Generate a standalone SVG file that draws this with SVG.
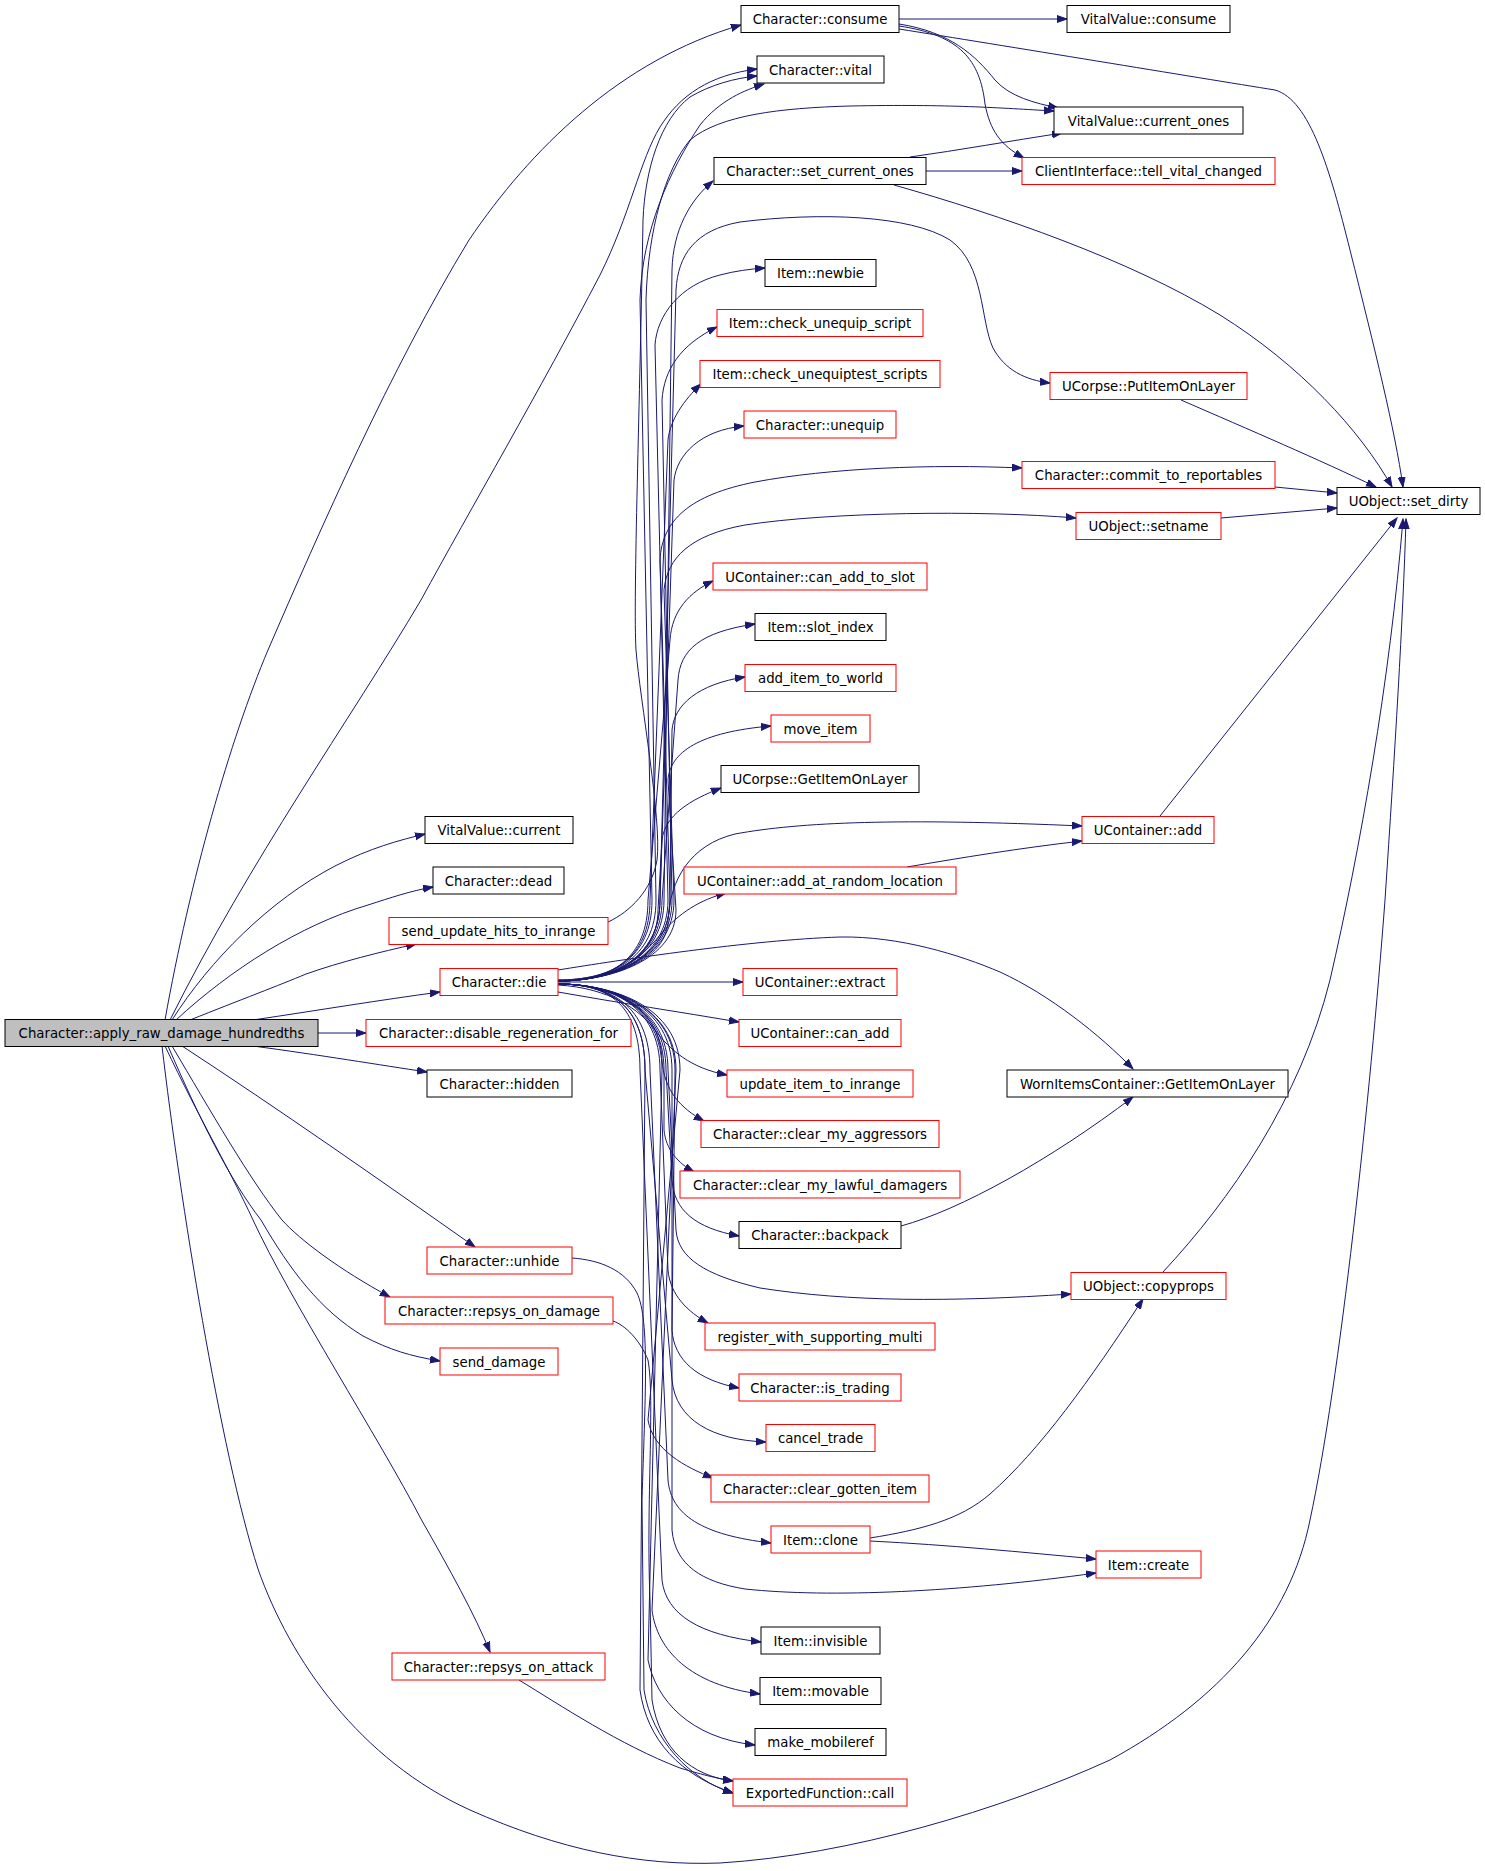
<svg xmlns="http://www.w3.org/2000/svg" width="1485" height="1871" viewBox="0 0 1485 1871">
<defs>
<style>
.n rect{fill:#ffffff;stroke:#000000;stroke-width:1}
.n.r rect{stroke:#ff0000}
.n.root rect{fill:#bfbfbf}
.n text{font-family:'DejaVu Sans',Verdana,sans-serif;font-size:13.3px;text-anchor:middle;fill:#000000}
#edges path{fill:none;stroke:#191970;stroke-width:1;marker-end:url(#arr)}
</style>
<marker id="arr" markerWidth="12" markerHeight="9" refX="10" refY="4" orient="auto" markerUnits="userSpaceOnUse">
<path d="M0,0.5 L10,4 L0,7.5 z" fill="#191970" stroke="#191970" stroke-width="1"/>
</marker>
</defs>
<rect width="1485" height="1871" fill="#ffffff"/>
<g id="edges">
<!-- from apply_raw_damage_hundredths -->
<path d="M165,1020 C190,880 230,740 268,650 C320,530 390,370 469,240 C530,150 620,60 741,25"/>
<path d="M170,1020 C250,860 350,720 421,600 C470,510 540,390 600,275 C630,215 640,160 660,127 C680,95 710,75 757,69"/>
<path d="M172,1020 C210,960 270,900 335,866 C370,848 400,840 425,834"/>
<path d="M176,1020 C230,970 300,925 368,905 C390,898 410,891 433,887"/>
<path d="M190,1020 C240,1000 280,985 306,974 C340,962 380,952 416,944"/>
<path d="M253,1020 C320,1010 380,1000 440,992"/>
<path d="M318,1033 L366,1033"/>
<path d="M253,1046 C320,1055 380,1065 427,1072"/>
<path d="M182,1046 C280,1110 380,1180 475,1247"/>
<path d="M172,1046 C210,1110 250,1180 282,1220 C300,1240 340,1270 390,1297"/>
<path d="M168,1046 C200,1120 230,1180 261,1220 C290,1270 320,1310 363,1336 C390,1350 410,1356 440,1361"/>
<path d="M165,1046 C200,1120 230,1170 253,1220 C290,1300 380,1440 421,1519 C450,1570 475,1615 490,1652"/>
<path d="M162,1046 C180,1200 220,1450 258,1569 C290,1660 360,1760 470,1810 C560,1850 640,1866 720,1863 C850,1855 1000,1810 1110,1760 C1220,1700 1290,1620 1310,1520 C1340,1380 1370,1100 1385,900 C1395,750 1403,620 1406,519"/>
<!-- send_update_hits_to_inrange -->
<path d="M608,922 C630,912 652,890 657,860 C662,820 640,700 636,650 C633,600 640,400 643,220 C645,170 660,120 690,97 C710,85 735,78 757,76"/>
<!-- from Character::die upward -->
<path d="M558,980 C610,980 652,960 652,900 L640,300 C642,230 670,170 700,125 C720,100 745,90 764,84"/>
<path d="M558,980 C610,980 656,960 656,900 L646,300 C648,230 665,170 690,140 C720,115 780,108 850,106 C950,104 1000,108 1054,111"/>
<path d="M558,981 C610,981 664,960 664,900 L672,270 C673,230 690,200 713,181"/>
<path d="M558,981 C610,981 660,960 660,900 L676,290 C678,255 695,230 740,222 C820,212 910,215 950,240 C985,265 980,320 993,348 C1005,370 1025,380 1050,383"/>
<path d="M558,981 C610,981 668,960 668,900 L655,345 C657,315 680,285 720,275 C735,271 750,269 765,268"/>
<path d="M558,981 C610,981 672,960 672,900 L662,400 C664,370 680,345 717,327"/>
<path d="M558,981 C610,981 650,960 650,900 L668,440 C670,420 684,400 701,384"/>
<path d="M558,981 C610,981 660,960 660,900 L674,480 C677,455 700,430 744,426"/>
<path d="M558,981 C610,981 670,960 670,900 L660,560 C662,520 690,495 755,482 C830,468 930,464 1022,468"/>
<path d="M558,981 C610,981 674,960 674,900 L664,590 C667,558 690,535 745,525 C830,512 980,510 1076,518"/>
<path d="M558,981 C610,981 648,960 648,900 L670,640 C672,610 690,592 713,581"/>
<path d="M558,981 C610,981 662,960 662,900 L678,680 C680,650 700,632 755,624"/>
<path d="M558,981 C610,981 670,960 670,900 L672,730 C674,705 698,684 745,677"/>
<path d="M558,981 C610,981 676,960 676,910 L668,780 C670,752 700,732 771,726"/>
<path d="M558,981 C610,981 658,960 658,910 L662,840 C665,815 690,800 721,788"/>
<path d="M558,981 C610,981 668,960 668,920 C670,880 690,845 735,834 C800,822 900,818 1082,826"/>
<path d="M558,981 C610,981 640,960 660,935 C680,912 700,900 726,893"/>
<path d="M558,970 C620,960 750,940 840,937 C900,936 960,955 1000,972 C1050,995 1100,1035 1133,1069"/>
<path d="M558,982 L743,982"/>
<path d="M558,992 C620,1003 680,1012 739,1022"/>
<!-- from Character::die downward -->
<path d="M558,985 C610,988 640,1010 655,1030 C670,1050 690,1068 727,1075"/>
<path d="M558,984 C610,984 660,1005 662,1060 C664,1090 680,1108 704,1121"/>
<path d="M558,984 C610,984 664,1005 664,1070 L664,1130 C666,1150 678,1163 694,1172"/>
<path d="M558,984 C610,984 666,1005 666,1070 L672,1180 C674,1210 695,1228 739,1236"/>
<path d="M558,984 C610,984 668,1005 668,1070 L676,1230 C678,1258 705,1275 760,1288 C850,1302 950,1302 1071,1294"/>
<path d="M558,984 C610,984 660,1005 660,1070 L668,1270 C670,1295 688,1312 708,1323"/>
<path d="M558,984 C610,984 675,1005 675,1070 L672,1330 C674,1360 697,1380 739,1388"/>
<path d="M558,984 C610,984 645,1005 645,1070 L672,1380 C676,1420 712,1440 766,1442"/>
<path d="M558,984 C610,984 680,1005 680,1070 L648,1420 C653,1450 685,1467 713,1478"/>
<path d="M558,984 C610,984 650,1005 650,1070 L668,1480 C671,1515 702,1535 771,1543"/>
<path d="M558,984 C610,984 672,1005 672,1070 L672,1530 C675,1565 702,1582 745,1589 C830,1598 960,1592 1096,1573"/>
<path d="M558,984 C610,984 640,1005 640,1070 L662,1580 C666,1615 700,1635 761,1642"/>
<path d="M558,984 C610,984 676,1005 676,1070 L652,1610 C657,1650 690,1685 760,1694"/>
<path d="M558,984 C610,984 662,1005 662,1070 L648,1660 C656,1700 690,1738 755,1745"/>
<path d="M558,984 C610,984 645,1005 645,1070 L640,1690 C647,1740 680,1775 733,1793"/>
<!-- other callers of ExportedFunction::call -->
<path d="M572,1258 C600,1260 625,1270 637,1293 C650,1320 645,1400 642,1500 L644,1690 C652,1740 690,1780 733,1793"/>
<path d="M613,1321 C625,1325 640,1340 648,1360 C655,1400 646,1500 650,1600 L652,1700 C660,1750 692,1776 733,1781"/>
<path d="M519,1680 C560,1705 620,1745 680,1768 C700,1774 715,1778 733,1781"/>
<!-- right side -->
<path d="M899,19 L1067,19"/>
<path d="M899,24 C950,32 975,55 995,80 C1010,97 1035,103 1058,108"/>
<path d="M899,26 C960,35 980,60 985,104 C990,130 1000,145 1024,158"/>
<path d="M899,29 C1000,45 1200,78 1275,90 C1310,100 1330,170 1350,250 C1375,350 1395,430 1403,487"/>
<path d="M910,157 C960,150 1010,141 1062,133"/>
<path d="M926,171 L1022,171"/>
<path d="M894,185 C1000,215 1130,260 1220,315 C1300,365 1360,430 1392,487"/>
<path d="M1181,400 C1250,430 1320,460 1376,487"/>
<path d="M1275,487 L1337,493"/>
<path d="M1221,518 L1337,508"/>
<path d="M1160,816 L1397,518"/>
<path d="M907,867 C960,858 1020,848 1082,841"/>
<path d="M901,1226 C960,1210 1050,1160 1133,1097"/>
<path d="M1163,1272 C1230,1200 1300,1100 1330,980 C1360,850 1390,680 1403,519"/>
<path d="M870,1538 C920,1530 960,1520 990,1494 C1040,1450 1090,1380 1143,1299"/>
<path d="M870,1541 C950,1545 1020,1552 1096,1559"/>
</g>
<g id="n_consume" class="n"><rect x="741" y="5.5" width="158" height="27"/><text x="820" y="24">Character::consume</text></g>
<g id="n_vv_consume" class="n"><rect x="1067" y="5.5" width="163" height="27"/><text x="1148.5" y="24">VitalValue::consume</text></g>
<g id="n_vital" class="n"><rect x="757" y="56" width="127" height="27"/><text x="820.5" y="74.5">Character::vital</text></g>
<g id="n_current_ones" class="n"><rect x="1054" y="107" width="189" height="27"/><text x="1148.5" y="125.5">VitalValue::current_ones</text></g>
<g id="n_set_current_ones" class="n"><rect x="714" y="157.5" width="212" height="27"/><text x="820" y="176">Character::set_current_ones</text></g>
<g id="n_tell_vital_changed" class="n r"><rect x="1022" y="157.5" width="253" height="27"/><text x="1148.5" y="176">ClientInterface::tell_vital_changed</text></g>
<g id="n_newbie" class="n"><rect x="765" y="259.5" width="111" height="27"/><text x="820.5" y="278">Item::newbie</text></g>
<g id="n_check_unequip_script" class="n r"><rect x="717" y="309.5" width="206" height="27"/><text x="820" y="328">Item::check_unequip_script</text></g>
<g id="n_check_unequiptest_scripts" class="n r"><rect x="700" y="360.5" width="240" height="27"/><text x="820" y="379">Item::check_unequiptest_scripts</text></g>
<g id="n_putitemonlayer" class="n r"><rect x="1050" y="372.5" width="197" height="27"/><text x="1148.5" y="391">UCorpse::PutItemOnLayer</text></g>
<g id="n_unequip" class="n r"><rect x="744" y="411" width="152" height="27"/><text x="820" y="429.5">Character::unequip</text></g>
<g id="n_commit" class="n r"><rect x="1022" y="461.5" width="253" height="27"/><text x="1148.5" y="480">Character::commit_to_reportables</text></g>
<g id="n_set_dirty" class="n"><rect x="1337" y="487.5" width="143" height="27"/><text x="1408.5" y="506">UObject::set_dirty</text></g>
<g id="n_setname" class="n r"><rect x="1076" y="512.5" width="145" height="27"/><text x="1148.5" y="531">UObject::setname</text></g>
<g id="n_can_add_to_slot" class="n r"><rect x="713" y="563" width="214" height="27"/><text x="820" y="581.5">UContainer::can_add_to_slot</text></g>
<g id="n_slot_index" class="n"><rect x="755" y="613.5" width="131" height="27"/><text x="820.5" y="632">Item::slot_index</text></g>
<g id="n_add_item_to_world" class="n r"><rect x="745" y="664.5" width="151" height="27"/><text x="820.5" y="683">add_item_to_world</text></g>
<g id="n_move_item" class="n r"><rect x="771" y="715" width="99" height="27"/><text x="820.5" y="733.5">move_item</text></g>
<g id="n_ucorpse_getitemonlayer" class="n"><rect x="721" y="765.5" width="198" height="27"/><text x="820" y="784">UCorpse::GetItemOnLayer</text></g>
<g id="n_ucontainer_add" class="n r"><rect x="1082" y="816.5" width="132" height="27"/><text x="1148" y="835">UContainer::add</text></g>
<g id="n_vv_current" class="n"><rect x="425" y="816.5" width="148" height="27"/><text x="499" y="835">VitalValue::current</text></g>
<g id="n_add_at_random_location" class="n r"><rect x="684" y="867" width="272" height="27"/><text x="820" y="885.5">UContainer::add_at_random_location</text></g>
<g id="n_dead" class="n"><rect x="433" y="867" width="131" height="27"/><text x="498.5" y="885.5">Character::dead</text></g>
<g id="n_send_update_hits" class="n r"><rect x="389" y="917.5" width="219" height="27"/><text x="498.5" y="936">send_update_hits_to_inrange</text></g>
<g id="n_die" class="n r"><rect x="440" y="968.5" width="118" height="27"/><text x="499" y="987">Character::die</text></g>
<g id="n_extract" class="n r"><rect x="743" y="968.5" width="154" height="27"/><text x="820" y="987">UContainer::extract</text></g>
<g id="n_apply" class="n root"><rect x="5" y="1019.5" width="313" height="27"/><text x="161.5" y="1038">Character::apply_raw_damage_hundredths</text></g>
<g id="n_disable_regen" class="n r"><rect x="366" y="1019.5" width="265" height="27"/><text x="498.5" y="1038">Character::disable_regeneration_for</text></g>
<g id="n_can_add" class="n r"><rect x="739" y="1019.5" width="162" height="27"/><text x="820" y="1038">UContainer::can_add</text></g>
<g id="n_hidden" class="n"><rect x="427" y="1070" width="145" height="27"/><text x="499.5" y="1088.5">Character::hidden</text></g>
<g id="n_update_item_to_inrange" class="n r"><rect x="727" y="1070" width="186" height="27"/><text x="820" y="1088.5">update_item_to_inrange</text></g>
<g id="n_worn_getitemonlayer" class="n"><rect x="1007" y="1070" width="281" height="27"/><text x="1147.5" y="1088.5">WornItemsContainer::GetItemOnLayer</text></g>
<g id="n_clear_my_aggressors" class="n r"><rect x="701" y="1120.5" width="238" height="27"/><text x="820" y="1139">Character::clear_my_aggressors</text></g>
<g id="n_clear_my_lawful_damagers" class="n r"><rect x="680" y="1171" width="280" height="27"/><text x="820" y="1189.5">Character::clear_my_lawful_damagers</text></g>
<g id="n_backpack" class="n"><rect x="739" y="1221.5" width="162" height="27"/><text x="820" y="1240">Character::backpack</text></g>
<g id="n_unhide" class="n r"><rect x="427" y="1247" width="145" height="27"/><text x="499.5" y="1265.5">Character::unhide</text></g>
<g id="n_copyprops" class="n r"><rect x="1071" y="1272.5" width="155" height="27"/><text x="1148.5" y="1291">UObject::copyprops</text></g>
<g id="n_repsys_on_damage" class="n r"><rect x="385" y="1297" width="228" height="27"/><text x="499" y="1315.5">Character::repsys_on_damage</text></g>
<g id="n_register_with_supporting_multi" class="n r"><rect x="705" y="1323" width="230" height="27"/><text x="820" y="1341.5">register_with_supporting_multi</text></g>
<g id="n_send_damage" class="n r"><rect x="440" y="1348" width="118" height="27"/><text x="499" y="1366.5">send_damage</text></g>
<g id="n_is_trading" class="n r"><rect x="739" y="1374" width="162" height="27"/><text x="820" y="1392.5">Character::is_trading</text></g>
<g id="n_cancel_trade" class="n r"><rect x="766" y="1424.5" width="109" height="27"/><text x="820.5" y="1443">cancel_trade</text></g>
<g id="n_clear_gotten_item" class="n r"><rect x="711" y="1475" width="218" height="27"/><text x="820" y="1493.5">Character::clear_gotten_item</text></g>
<g id="n_clone" class="n r"><rect x="771" y="1526" width="99" height="27"/><text x="820.5" y="1544.5">Item::clone</text></g>
<g id="n_create" class="n r"><rect x="1096" y="1551" width="105" height="27"/><text x="1148.5" y="1569.5">Item::create</text></g>
<g id="n_invisible" class="n"><rect x="761" y="1627" width="119" height="27"/><text x="820.5" y="1645.5">Item::invisible</text></g>
<g id="n_repsys_on_attack" class="n r"><rect x="392" y="1653" width="213" height="27"/><text x="498.5" y="1671.5">Character::repsys_on_attack</text></g>
<g id="n_movable" class="n"><rect x="760" y="1677.5" width="121" height="27"/><text x="820.5" y="1696">Item::movable</text></g>
<g id="n_make_mobileref" class="n"><rect x="755" y="1728.5" width="131" height="27"/><text x="820.5" y="1747">make_mobileref</text></g>
<g id="n_exported_call" class="n r"><rect x="733" y="1779" width="174" height="27"/><text x="820" y="1797.5">ExportedFunction::call</text></g>
</svg>
